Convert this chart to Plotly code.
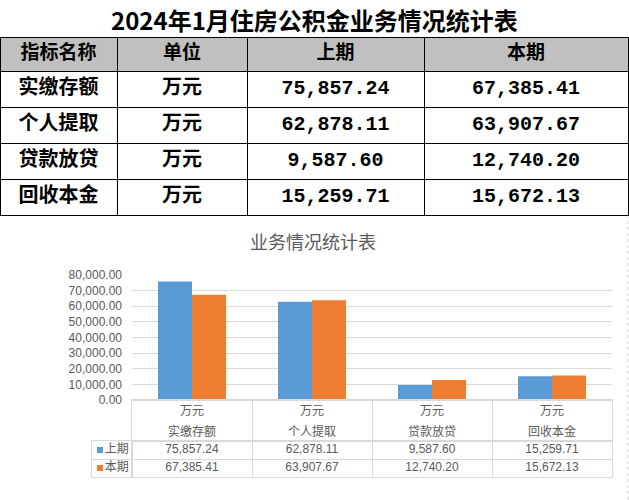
import plotly.graph_objects as go

categories = ["实缴存额", "个人提取", "贷款放贷", "回收本金"]
units = ["万元", "万元", "万元", "万元"]
prev = [75857.24, 62878.11, 9587.60, 15259.71]
curr = [67385.41, 63907.67, 12740.20, 15672.13]
series_names = ["上期", "本期"]
table_headers = ["指标名称", "单位", "上期", "本期"]
main_title = "2024年1月住房公积金业务情况统计表"
chart_title = "业务情况统计表"

W, H = 629, 500
BLUE, ORANGE = "#5b9bd5", "#ed7d31"
GRAY_TXT = "#595959"
GRID = "#d9d9d9"
CJK = "Noto Sans CJK SC"
NUM = "Liberation Sans"


def fx(x):
    return x / W


def fy(y):
    return 1 - y / H


def fmt(v):
    return f"{v:,.2f}"


n_cat = len(categories)
n_ser = len(series_names)
cat_range = [-0.5, n_cat - 0.5]
ser_range = [-0.5, n_ser - 0.5]

fig = go.Figure()

# ---- top summary table ----
fig.add_trace(go.Table(
    domain=dict(x=[0, fx(628)], y=[fy(219), fy(37)]),
    columnwidth=[117, 130, 177, 204],
    header=dict(
        values=table_headers,
        fill_color="#c0c0c0",
        line=dict(color="black", width=1),
        font=dict(family=CJK, size=19, color="black", weight="bold"),
        align="center",
        height=34,
    ),
    cells=dict(
        values=[categories, units, prev, curr],
        format=["", "", ",.2f", ",.2f"],
        fill_color="white",
        line=dict(color="black", width=1),
        font=dict(family=[CJK, CJK, "Liberation Mono", "Liberation Mono"],
                  size=[20, 20, 20, 20], color="black", weight="bold"),
        align="center",
        height=36,
    ),
))

# ---- bars ----
fig.add_trace(go.Bar(x=categories, y=prev, name=series_names[0], marker_color=BLUE,
                     marker_line_width=0, xaxis="x", yaxis="y"))
fig.add_trace(go.Bar(x=categories, y=curr, name=series_names[1], marker_color=ORANGE,
                     marker_line_width=0, xaxis="x", yaxis="y"))

# ---- chart data table: header (units + category names) ----
fig.add_trace(go.Scatter(x=categories, y=[1.5] * n_cat, text=units, mode="text",
                         textfont=dict(family=CJK, size=12, color=GRAY_TXT),
                         xaxis="x3", yaxis="y3", hoverinfo="skip"))
fig.add_trace(go.Scatter(x=categories, y=[0.5] * n_cat, text=categories, mode="text",
                         textfont=dict(family=CJK, size=12, color=GRAY_TXT),
                         xaxis="x3", yaxis="y3", hoverinfo="skip"))

# ---- chart data table: values ----
for name, vals in zip(series_names, [prev, curr]):
    fig.add_trace(go.Scatter(x=categories, y=[name] * n_cat,
                             text=[fmt(v) for v in vals], mode="text",
                             textfont=dict(family=NUM, size=12, color=GRAY_TXT),
                             xaxis="x4", yaxis="y4", hoverinfo="skip"))

# ---- chart data table: legend keys ----
fig.add_trace(go.Scatter(x=[0.2] * n_ser, y=series_names, text=series_names,
                         mode="markers+text", textposition="middle right",
                         marker=dict(symbol="square", size=6, color=[BLUE, ORANGE]),
                         textfont=dict(family=CJK, size=12, color=GRAY_TXT),
                         xaxis="x5", yaxis="y5", hoverinfo="skip"))

box = dict(showline=True, mirror=True, linecolor=GRID, linewidth=1,
           showticklabels=False, ticks="", zeroline=False, fixedrange=True)

fig.update_layout(
    width=W, height=H,
    margin=dict(l=0, r=0, t=0, b=0, autoexpand=False),
    paper_bgcolor="white", plot_bgcolor="rgba(0,0,0,0)",
    showlegend=False,
    barmode="group", bargap=0.433, bargroupgap=0,
    font=dict(family=CJK, color=GRAY_TXT, size=12),
    xaxis=dict(domain=[fx(132), fx(612)], showticklabels=False, ticks="",
               showline=True, linecolor=GRID, showgrid=False, zeroline=False,
               categoryorder="array", categoryarray=categories, range=cat_range),
    yaxis=dict(domain=[fy(400), fy(275)], range=[0, 80000], dtick=10000,
               tickformat=",.2f", showgrid=True, gridcolor=GRID, zeroline=False,
               showline=False, ticks="", ticklabelstandoff=9,
               tickfont=dict(family=NUM, size=12, color=GRAY_TXT)),
    xaxis3=dict(domain=[fx(132), fx(612)], matches="x", type="category",
                tickson="boundaries", showgrid=True, gridcolor=GRID, anchor="y3",
                **box),
    yaxis3=dict(domain=[fy(441), fy(400)], range=[0.12, 2.07], showgrid=False,
                anchor="x3", **box),
    xaxis4=dict(domain=[fx(132), fx(612)], matches="x", type="category",
                tickson="boundaries", showgrid=True, gridcolor=GRID, anchor="y4",
                **box),
    yaxis4=dict(domain=[fy(477), fy(441)], type="category",
                categoryorder="array", categoryarray=series_names[::-1],
                range=ser_range,
                tickson="boundaries", showgrid=True, gridcolor=GRID, anchor="x4",
                **box),
    xaxis5=dict(domain=[fx(92), fx(132)], range=[0, 1], showgrid=False, anchor="y5",
                **box),
    yaxis5=dict(domain=[fy(477), fy(441)], matches="y4", type="category",
                tickson="boundaries", showgrid=True, gridcolor=GRID, anchor="x5",
                **box),
    annotations=[
        dict(text=main_title, x=fx(314), y=fy(19), xref="paper", yref="paper",
             showarrow=False, xanchor="center", yanchor="middle",
             font=dict(family=CJK, size=24, color="black", weight="bold")),
        dict(text=chart_title, x=fx(313), y=fy(241), xref="paper", yref="paper",
             showarrow=False, xanchor="center", yanchor="middle",
             font=dict(family=CJK, size=18, color=GRAY_TXT)),
    ],
    shapes=[
        dict(type="line", xref="paper", yref="paper", x0=fx(628), x1=fx(628),
             y0=0, y1=fy(217), line=dict(color="#d0d0d0", width=1, dash="dot")),
    ],
)

fig.write_html("out.html", config={"displayModeBar": False, "staticPlot": True},
               post_script="document.body.style.margin='0';document.body.style.overflow='hidden';")
